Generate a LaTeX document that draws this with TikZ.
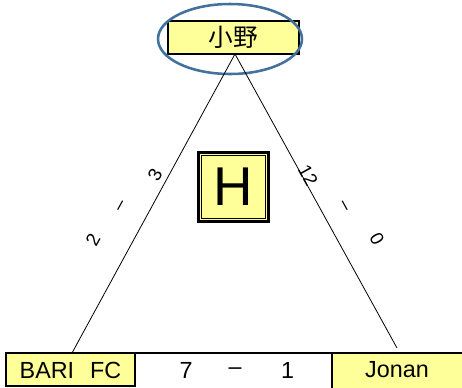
\documentclass[tikz,border=0pt]{standalone}
\usepackage{fontspec}
\setmainfont{Liberation Sans}
\newfontfamily\jpfont{Noto Sans CJK JP}
\definecolor{boxyellow}{HTML}{FFFF99}
\definecolor{ringblue}{HTML}{41719C}
\begin{document}
\begin{tikzpicture}[x=0.75pt,y=-0.75pt,
  ybox/.style={draw=black,fill=boxyellow,line width=1.5pt},
  score/.style={font=\fontsize{14}{16}\selectfont,inner sep=0pt},
  lbl/.style={font=\fontsize{17.5}{20}\selectfont,inner sep=0pt},
  conn/.style={draw=black,line width=0.6pt}]
\fill[white] (0,0) rectangle (462,387);
\useasboundingbox (0,0) rectangle (462,387);
% top box
\node[ybox,minimum width=131*0.75pt,minimum height=33*0.75pt,inner sep=0pt,
  font=\jpfont\fontsize{18.5}{20}\selectfont] (top) at (233.5,37.5) {小野};
\draw[ringblue,line width=1.9pt] (230,39) ellipse [x radius=72, y radius=35];
% H box
\node[draw=black,fill=boxyellow,line width=1.7pt,
  minimum width=70*0.75pt,minimum height=69*0.75pt,inner sep=0pt,
  font=\fontsize{41}{44}\selectfont] (hbox) at (233.5,187) {H};
\draw[black,line width=0.8pt] ([xshift=3.2pt,yshift=-3.2pt]hbox.north west) rectangle ([xshift=-3.2pt,yshift=3.2pt]hbox.south east);
% bottom row
\fill[boxyellow] (6,353) rectangle (135,386);
\draw[black,line width=1.5pt] (6,353) rectangle (135,386);
\node[lbl] (bari) at (70.5,370) {BARI\hspace{12pt}FC};
\fill[boxyellow] (332,353) rectangle (462,388);
\draw[black,line width=1.5pt] (135,353) -- (462,353);
\draw[black,line width=1.5pt] (332,353) -- (332,388);
\node[lbl] (jonan) at (397,370) {Jonan};
\node[lbl] (s7) at (186,370) {7};
\node[lbl] (sdash) at (235,371) {--};
\node[lbl] (s1) at (287.5,370) {1};
% connectors
\coordinate (apex) at (235,54);
\coordinate (lend) at (72,353);
\coordinate (rend) at (397,348);
\draw[conn] (apex) -- (lend);
\draw[conn] (apex) -- (rend);
% scores left
\node[score,rotate=61] (l2) at (93,240) {2};
\node[score,rotate=61] (ld) at (122,207) {--};
\node[score,rotate=61] (l3) at (155,175) {3};
% scores right
\node[score,rotate=-61] (r12) at (308,175) {12};
\node[score,rotate=-61] (rd) at (343,207) {--};
\node[score,rotate=-61] (r0) at (377,239) {0};
\end{tikzpicture}
\end{document}
